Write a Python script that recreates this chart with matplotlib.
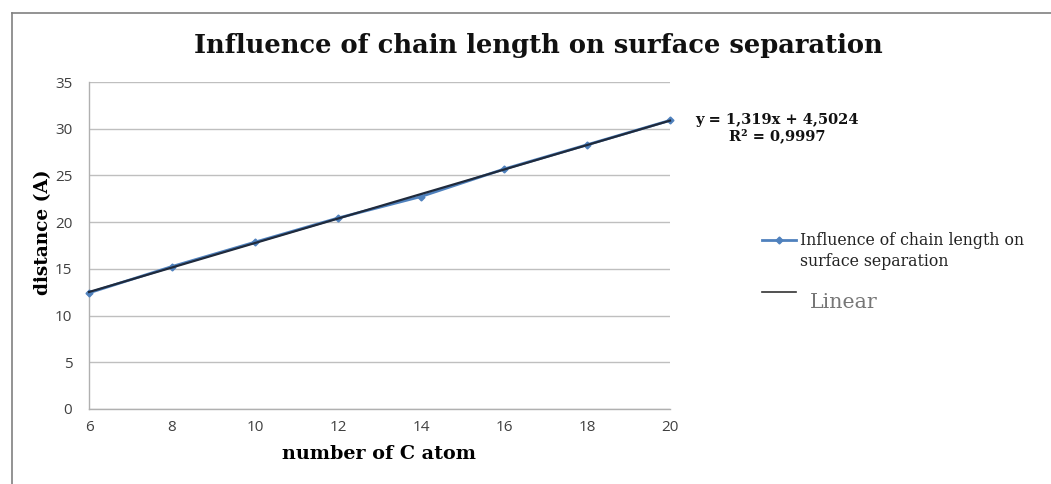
import numpy as np
import matplotlib
matplotlib.use("Agg")
import matplotlib.pyplot as plt
from matplotlib.lines import Line2D

# Data
carbon_atoms = [6, 8, 10, 12, 14, 16, 18, 20]
distance = [12.43, 15.25, 17.86, 20.44, 22.74, 25.68, 28.28, 30.89]
x_ticks = [6, 8, 10, 12, 14, 16, 18, 20]
y_ticks = [0, 5, 10, 15, 20, 25, 30, 35]

title = "Influence of chain length on surface separation"
series_label = "Influence of chain length on\nsurface separation"
trend_label = "Linear"
equation_text = "y = 1,319x + 4,5024\nR² = 0,9997"

W, H = 1051, 484
fig = plt.figure(figsize=(W / 100, H / 100), dpi=100)
ax = fig.add_axes([89 / W, 1 - 409 / H, (670 - 89) / W, (409 - 82) / H])

serif = ["DejaVu Serif"]
sans = ["Open Sans", "DejaVu Sans"]

blue = "#4F81BD"
trend_col = "#1F2A3C"

# Data series
ax.plot(carbon_atoms, distance, color=blue, lw=2, marker="D", ms=3.5, zorder=3, clip_on=False)

# Linear trendline from data
coef = np.polyfit(carbon_atoms, distance, 1)
xs = np.array([min(carbon_atoms), max(carbon_atoms)])
ax.plot(xs, np.polyval(coef, xs), color=trend_col, lw=1.6, zorder=4, clip_on=False)

ax.set_xlim(6, 20)
ax.set_ylim(0, 35)
ax.set_xticks(x_ticks)
ax.set_yticks(y_ticks)
ax.yaxis.grid(True, color="#BFBFBF", lw=1)
ax.set_axisbelow(True)
for s in ["top", "right"]:
    ax.spines[s].set_visible(False)
for s in ["left", "bottom"]:
    ax.spines[s].set_color("#B0B0B0")
    ax.spines[s].set_linewidth(1)
ax.tick_params(length=0, labelsize=11, labelcolor="#404040")
ax.tick_params(axis="y", pad=12)
ax.tick_params(axis="x", pad=8)
for lab in ax.get_xticklabels() + ax.get_yticklabels():
    lab.set_family(sans)

ax.set_xlabel("number of C atom", family=serif, fontweight="bold", fontsize=13.8, labelpad=7)
ax.set_ylabel("distance (A)", family=serif, fontweight="bold", fontsize=13.3)
ax.yaxis.set_label_coords(-0.064, 0.54)

fig.text(538 / W, 1 - 46 / H, title, family=serif, fontweight="bold",
         fontsize=18.5, ha="center", va="center", color="#111111")

# Trendline equation
fig.text(777 / W, 1 - 128 / H, equation_text, family=serif, fontweight="bold",
         fontsize=10.5, ha="center", va="center", linespacing=1.15, color="#111111")

# Legend drawn manually
fig.add_artist(Line2D([762 / W, 796 / W], [1 - 240 / H, 1 - 240 / H], color=blue, lw=2,
                      transform=fig.transFigure))
fig.add_artist(Line2D([779 / W], [1 - 240 / H], color=blue, marker="D", ms=3.5,
                      lw=0, transform=fig.transFigure))
fig.text(800 / W, 1 - 251 / H, series_label, family=serif, fontsize=11.3,
         ha="left", va="center", linespacing=1.25, color="#222222")
fig.add_artist(Line2D([762 / W, 796 / W], [1 - 292 / H, 1 - 292 / H], color="#333333", lw=1.2,
                      transform=fig.transFigure))
fig.text(810 / W, 1 - 302 / H, trend_label, family=serif, fontsize=14.8,
         ha="left", va="center", color="#777777")

# Outer frame lines
fig.add_artist(Line2D([12 / W, 1.0], [1 - 13 / H, 1 - 13 / H], color="#808080", lw=1.2,
                      transform=fig.transFigure))
fig.add_artist(Line2D([12 / W, 12 / W], [0, 1 - 13 / H], color="#808080", lw=1.2,
                      transform=fig.transFigure))

fig.savefig("out.png", dpi=100)
